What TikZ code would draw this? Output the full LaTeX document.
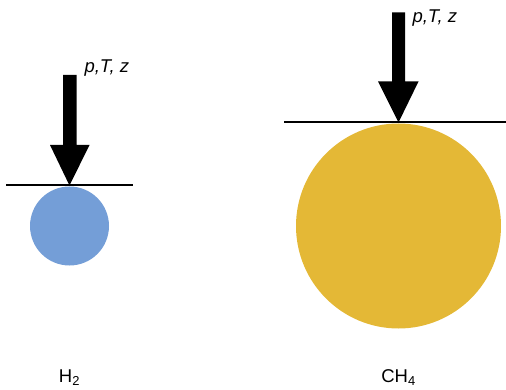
\documentclass[tikz,border=0pt]{standalone}
\usepackage{fontspec}
\setmainfont{Liberation Sans}
\definecolor{hblue}{RGB}{116,158,215}
\definecolor{cyellow}{RGB}{228,184,54}
\begin{document}
\begin{tikzpicture}[x=1pt,y=-1pt,font=\fontsize{18.5}{22}\selectfont]
    \useasboundingbox (0,0) rectangle (506,390);
    % H2
    \fill[hblue] (69.5,226) circle (39.5);
    \draw[line width=2] (6,185.5) -- (133,185.5);
    \fill (63,75) -- (76.5,75) -- (76.5,145) -- (89.5,145) -- (69.5,185.5) -- (50,145) -- (63,145) -- cycle;
    \node[anchor=west] (lblH) at (81,68) {\itshape p,T, z};
    \node (nameH) at (69.5,378) {H\textsubscript{2}};
    % CH4
    \fill[cyellow] (398.5,226) circle (102.5);
    \draw[line width=2] (284,122.5) -- (506,122.5);
    \fill (392,12.5) -- (405,12.5) -- (405,81.5) -- (418.5,81.5) -- (398.5,122.5) -- (378,81.5) -- (392,81.5) -- cycle;
    \node[anchor=west] (lblC) at (409,18) {\itshape p,T, z};
    \node (nameC) at (398.5,378) {CH\textsubscript{4}};
\end{tikzpicture}
\end{document}
